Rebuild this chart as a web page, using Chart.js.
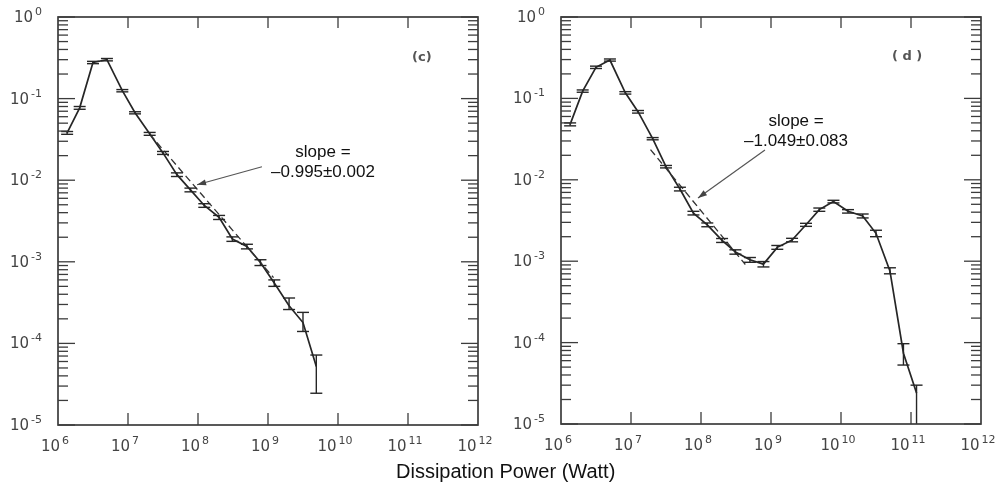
<!DOCTYPE html>
<html>
<head>
<meta charset="utf-8">
<script src="https://cdn.jsdelivr.net/npm/chart.js@4.4.1/dist/chart.umd.min.js"></script>
<style>
  body { margin: 0; background: #fff; }
  #wrap { position: relative; width: 996px; height: 485px; }
  canvas { position: absolute; top: 0; }
  #xtitle { position: absolute; left: 396px; top: 461px; font: 20px "Liberation Sans", Arial, sans-serif; line-height: 20px; color: #111; white-space: nowrap; }
</style>
</head>
<body>
<div id="wrap">
  <canvas id="chartC" width="500" height="485" style="left:0"></canvas>
  <canvas id="chartD" width="506" height="485" style="left:490px"></canvas>
  <div id="xtitle">Dissipation Power (Watt)</div>
</div>
<script>
// dissipation power bins (W), shared by both panels
const power = [1.35e6, 2.04e6, 3.16e6, 5.0e6, 8.3e6, 1.26e7, 2.04e7, 3.16e7, 5.0e7, 7.8e7,
  1.23e8, 2.0e8, 3.1e8, 5.0e8, 7.8e8, 1.23e9, 2.0e9, 3.16e9, 4.9e9, 7.8e9,
  1.26e10, 2.04e10, 3.16e10, 5.0e10, 7.8e10, 1.2e11];

// panel (c)
const probC = [0.038, 0.077, 0.277, 0.30, 0.125, 0.067, 0.037, 0.0216, 0.0117, 0.0076,
  0.0049, 0.0035, 0.0019, 0.00154, 0.00098, 0.00055, 0.00029, 0.00018, 0.000052];
const lowC = [0.0365, 0.074, 0.268, 0.29, 0.121, 0.065, 0.0355, 0.0207, 0.0111, 0.0072,
  0.00465, 0.0033, 0.00178, 0.00144, 0.0009, 0.0005, 0.00026, 0.00014, 0.0000245];
const highC = [0.0395, 0.080, 0.286, 0.31, 0.129, 0.069, 0.0385, 0.0225, 0.0123, 0.0080,
  0.00515, 0.0037, 0.00202, 0.00164, 0.00106, 0.0006, 0.00036, 0.00024, 0.000072];
const fitXC = [2.04e7, 1.2e9];
const fitYC = [0.0366, 0.00064];

// panel (d)
const probD = [0.048, 0.123, 0.241, 0.296, 0.117, 0.0687, 0.032, 0.0145, 0.0077, 0.0039,
  0.0028, 0.0018, 0.0013, 0.00104, 0.00092, 0.00148, 0.00182, 0.0028, 0.0043, 0.0054,
  0.0041, 0.0036, 0.0022, 0.00076, 0.000074, 0.000024];
const lowD = [0.046, 0.119, 0.233, 0.287, 0.113, 0.066, 0.031, 0.014, 0.0073, 0.0037,
  0.00265, 0.0017, 0.00122, 0.00097, 0.00085, 0.0014, 0.00173, 0.00268, 0.0041, 0.0052,
  0.0039, 0.0034, 0.0020, 0.0007, 0.000053, 0.000001];
const highD = [0.050, 0.127, 0.249, 0.305, 0.121, 0.071, 0.033, 0.015, 0.0081, 0.0041,
  0.00295, 0.0019, 0.00138, 0.00111, 0.00099, 0.00156, 0.00191, 0.00292, 0.0045, 0.0056,
  0.0043, 0.0038, 0.0024, 0.00083, 0.000097, 0.00003];
const fitXD = [1.9e7, 4.3e8];
const fitYD = [0.0235, 0.00091];

// axis decades (exponents)
const xExp = [6, 7, 8, 9, 10, 11, 12];
const yExp = [-5, -4, -3, -2, -1, 0];

const INK = '#262626';

function drawPow(ctx, exp, x, y, align) {
  ctx.fillStyle = '#444';
  ctx.textAlign = 'left';
  ctx.textBaseline = 'alphabetic';
  ctx.font = '15px "DejaVu Sans"';
  const wb = ctx.measureText('10').width;
  ctx.font = '11px "DejaVu Sans"';
  const sup = String(exp);
  const ws = ctx.measureText(sup).width;
  const gap = 2;
  const x0 = align === 'right' ? x - wb - gap - ws : x - (wb + gap + ws) / 2;
  ctx.font = '15px "DejaVu Sans"';
  ctx.fillText('10', x0, y);
  ctx.font = '11px "DejaVu Sans"';
  ctx.fillText(sup, x0 + wb + gap, y - 7);
}

function seg(ctx, x1, y1, x2, y2) {
  ctx.beginPath(); ctx.moveTo(x1, y1); ctx.lineTo(x2, y2); ctx.stroke();
}

const errorBars = {
  id: 'errorBars',
  afterDatasetsDraw(chart, args, opts) {
    const { ctx, chartArea: a, scales: { x, y } } = chart;
    ctx.save();
    ctx.beginPath(); ctx.rect(a.left, a.top, a.right - a.left, a.bottom - a.top); ctx.clip();
    ctx.strokeStyle = INK; ctx.lineWidth = 1.4;
    opts.lo.forEach((lo, i) => {
      const px = x.getPixelForValue(power[i]);
      const p1 = y.getPixelForValue(lo), p2 = y.getPixelForValue(opts.hi[i]);
      seg(ctx, px, p1, px, p2);
      seg(ctx, px - 6, p1, px + 6, p1);
      seg(ctx, px - 6, p2, px + 6, p2);
    });
    ctx.restore();
  }
};

const logAxes = {
  id: 'logAxes',
  afterDraw(chart, args, opts) {
    const { ctx, chartArea: a, scales: { x, y } } = chart;
    ctx.save();
    ctx.strokeStyle = '#3c3c3c'; ctx.lineWidth = 1.7;
    ctx.strokeRect(a.left, a.top, a.right - a.left, a.bottom - a.top);
    ctx.lineWidth = 1.3;
    yExp.forEach(e => {
      for (let m = 1; m <= 9; m++) {
        const v = m * Math.pow(10, e);
        if (v > 1) break;
        const py = y.getPixelForValue(v);
        const len = m === 1 ? 17 : 10;
        seg(ctx, a.left, py, a.left + len, py);
        seg(ctx, a.right, py, a.right - len, py);
      }
      drawPow(ctx, e, a.left - 16, y.getPixelForValue(Math.pow(10, e)) + 5, 'right');
    });
    xExp.forEach(e => {
      const px = x.getPixelForValue(Math.pow(10, e));
      if (e > 6 && e < 12) {
        seg(ctx, px, a.bottom, px, a.bottom - 12);
        seg(ctx, px, a.top, px, a.top + 11);
      }
      drawPow(ctx, e, px - 3, a.bottom + 26, 'center');
    });
    // slope note and arrow
    const n = opts.note;
    ctx.fillStyle = '#111';
    ctx.font = '17px "Liberation Sans"';
    ctx.textAlign = 'center'; ctx.textBaseline = 'middle';
    const tx = x.getPixelForValue(n.x), ty = y.getPixelForValue(n.y);
    ctx.fillText('slope =', tx, ty);
    ctx.fillText(n.text, tx, ty + 20);
    const ax = x.getPixelForValue(n.fromX), ay = y.getPixelForValue(n.fromY);
    const bx = x.getPixelForValue(n.toX), by = y.getPixelForValue(n.toY);
    ctx.strokeStyle = '#555'; ctx.lineWidth = 1.2;
    seg(ctx, ax, ay, bx, by);
    const ang = Math.atan2(by - ay, bx - ax);
    ctx.fillStyle = '#444';
    ctx.beginPath();
    ctx.moveTo(bx, by);
    ctx.lineTo(bx - 9 * Math.cos(ang) + 3 * Math.sin(ang), by - 9 * Math.sin(ang) - 3 * Math.cos(ang));
    ctx.lineTo(bx - 9 * Math.cos(ang) - 3 * Math.sin(ang), by - 9 * Math.sin(ang) + 3 * Math.cos(ang));
    ctx.closePath(); ctx.fill();
    // panel tag
    ctx.fillStyle = '#555';
    ctx.font = 'bold 13px "DejaVu Sans"';
    ctx.fillText(n.tag, x.getPixelForValue(n.tagX), y.getPixelForValue(n.tagY));
    ctx.restore();
  }
};

function makePanel(id, probs, lo, hi, fitX, fitY, pad, note) {
  const pts = probs.map((v, i) => ({ x: power[i], y: v }));
  const fit = fitX.map((v, i) => ({ x: v, y: fitY[i] }));
  return new Chart(document.getElementById(id), {
    type: 'scatter',
    data: {
      datasets: [
        { data: fit, showLine: true, borderColor: '#333', borderWidth: 1.3, borderDash: [7, 4], pointRadius: 0 },
        { data: pts, showLine: true, borderColor: INK, borderWidth: 1.7, pointRadius: 0, tension: 0 }
      ]
    },
    options: {
      responsive: false,
      animation: false,
      devicePixelRatio: 1,
      layout: { padding: pad },
      plugins: {
        legend: { display: false },
        tooltip: { enabled: false },
        errorBars: { lo: lo, hi: hi },
        logAxes: { note: note }
      },
      scales: {
        x: { type: 'logarithmic', min: 1e6, max: 1e12, display: false },
        y: { type: 'logarithmic', min: 1e-5, max: 1, display: false }
      }
    },
    plugins: [errorBars, logAxes]
  });
}

makePanel('chartC', probC, lowC, highC, fitXC, fitYC,
  { left: 58, right: 22, top: 17, bottom: 60 },
  { text: '\u20130.995\u00b10.002', x: 6.1e9, y: 0.0217, fromX: 8.2e8, fromY: 0.0146, toX: 9.7e7, toY: 0.0088,
    tag: '(c)', tagX: 1.58e11, tagY: 0.318 });

makePanel('chartD', probD, lowD, highD, fitXD, fitYD,
  { left: 71, right: 15, top: 17, bottom: 61 },
  { text: '\u20131.049\u00b10.083', x: 2.28e9, y: 0.0527, fromX: 8.2e8, fromY: 0.0232, toX: 9.06e7, toY: 0.00597,
    tag: '( d )', tagX: 8.8e10, tagY: 0.323 });
</script>
</body>
</html>
